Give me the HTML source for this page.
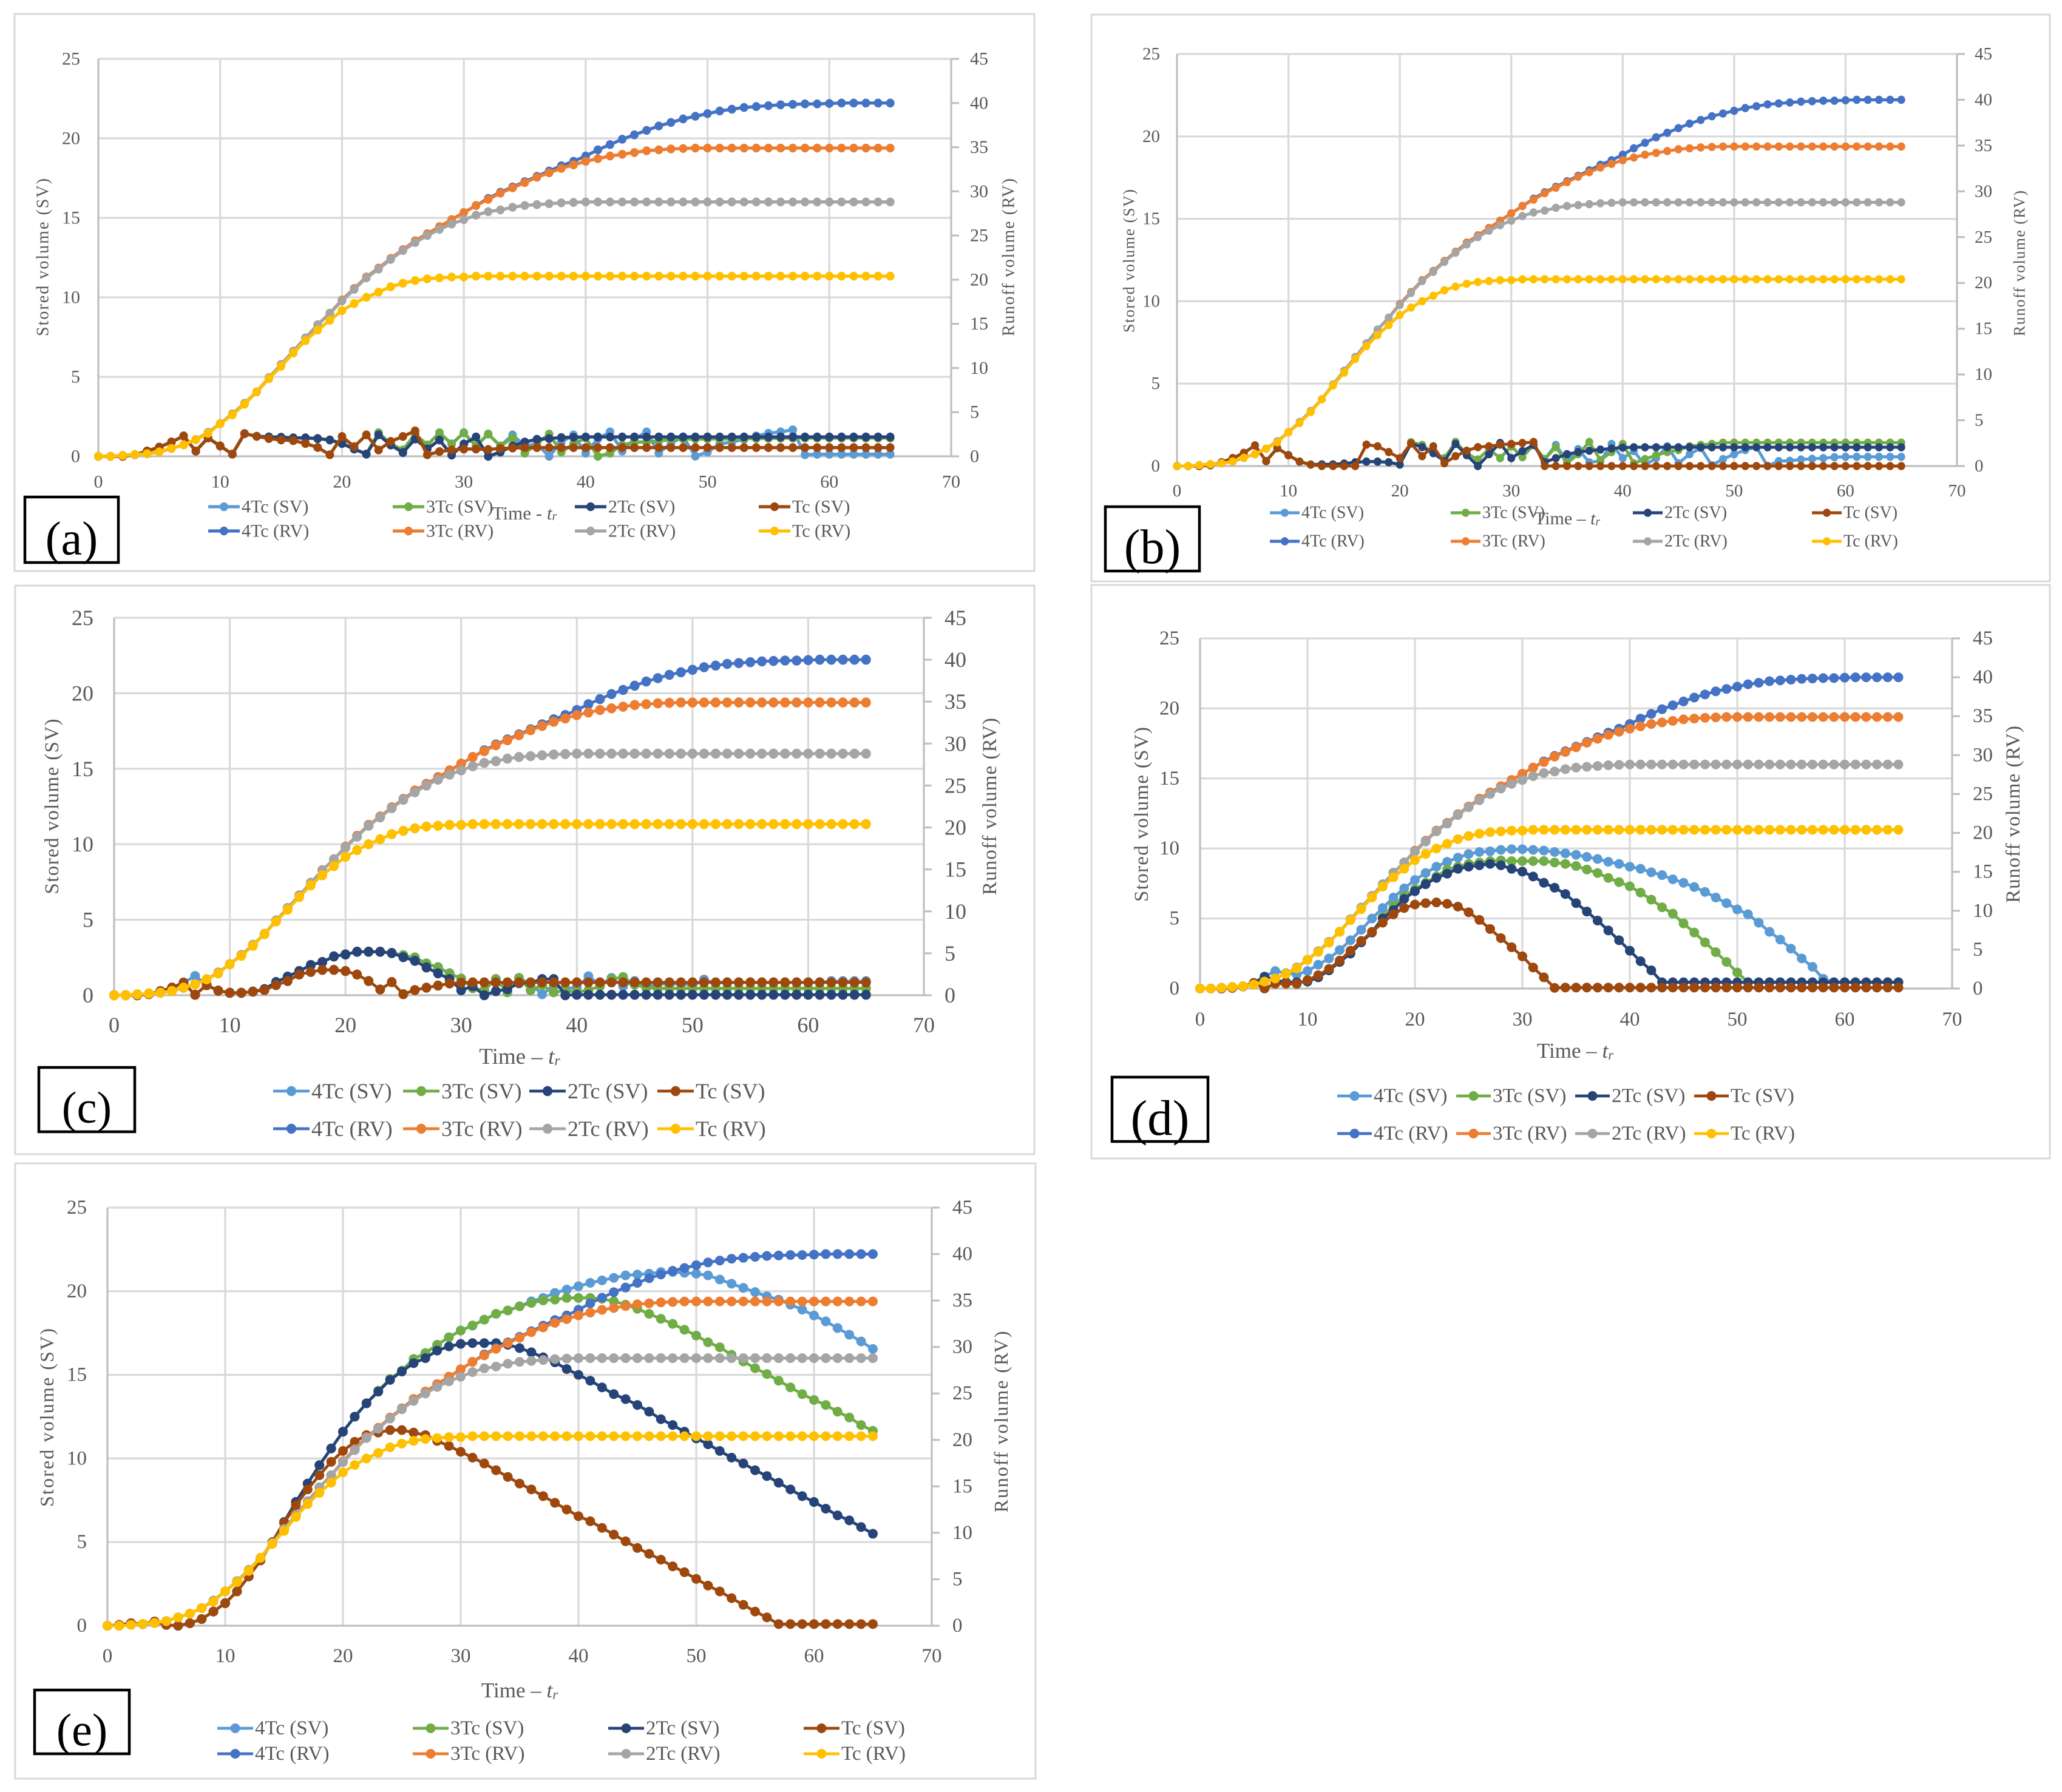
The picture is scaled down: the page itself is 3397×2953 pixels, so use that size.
<!DOCTYPE html>
<html lang="en">
<head>
<meta charset="utf-8">
<title>Stored and runoff volume panels</title>
<style>
html,body{margin:0;padding:0;background:#fff;}
svg{display:block;font-family:"Liberation Serif",serif;}
</style>
</head>
<body>
<svg id="figure" xmlns="http://www.w3.org/2000/svg" width="3397" height="2953" viewBox="0 0 3397 2953"></svg>
<script>
/* ---------- shared tick labels ---------- */
const xTicks = [0,10,20,30,40,50,60,70];
const primaryTicks = [0,5,10,15,20,25];
const secondaryTicks = [0,5,10,15,20,25,30,35,40,45];
const seriesLabels = ['4Tc (SV)','3Tc (SV)','2Tc (SV)','Tc (SV)','4Tc (RV)','3Tc (RV)','2Tc (RV)','Tc (RV)'];

/* ---------- runoff volume (secondary axis) ---------- */
const rv4Tc = [0,0,0.1,0.2,0.3,0.5,0.9,1.3,1.9,2.7,
3.7,4.8,6,7.3,8.9,10.4,11.9,13.4,14.9,16.2,
17.7,19,20.3,21.3,22.4,23.4,24.4,25.2,26,26.8,
27.6,28.4,29.2,29.9,30.5,31.1,31.7,32.3,32.9,33.4,
34,34.7,35.3,35.9,36.4,36.9,37.4,37.8,38.2,38.5,
38.8,39.1,39.3,39.5,39.6,39.7,39.8,39.85,39.9,39.9,
39.95,40,40,40,40,40];
const rv3Tc = [0,0,0.1,0.2,0.3,0.5,0.9,1.3,1.9,2.7,
3.7,4.8,6,7.3,8.9,10.4,11.9,13.4,14.9,16.2,
17.7,19,20.3,21.3,22.4,23.4,24.4,25.2,26,26.8,
27.6,28.4,29.1,29.8,30.4,31,31.6,32.1,32.6,33,
33.4,33.7,34,34.2,34.4,34.6,34.7,34.8,34.85,34.9,
34.9,34.9,34.9,34.9,34.9,34.9,34.9,34.9,34.9,34.9,
34.9,34.9,34.9,34.9,34.9,34.9];
const rv2Tc = [0,0,0.1,0.2,0.3,0.5,0.9,1.3,1.9,2.7,
3.7,4.8,6,7.3,8.9,10.4,11.9,13.4,14.9,16.2,
17.6,18.9,20.2,21.2,22.3,23.3,24.2,25,25.7,26.3,
26.8,27.3,27.7,27.9,28.2,28.4,28.5,28.6,28.7,28.75,
28.8,28.8,28.8,28.8,28.8,28.8,28.8,28.8,28.8,28.8,
28.8,28.8,28.8,28.8,28.8,28.8,28.8,28.8,28.8,28.8,
28.8,28.8,28.8,28.8,28.8,28.8];
const rvTc = [0,0,0.1,0.2,0.3,0.5,0.9,1.3,1.9,2.6,
3.7,4.7,5.9,7.3,8.8,10.2,11.7,13.1,14.3,15.4,
16.5,17.3,18,18.6,19.2,19.6,19.9,20.1,20.2,20.3,
20.3,20.4,20.4,20.4,20.4,20.4,20.4,20.4,20.4,20.4,
20.4,20.4,20.4,20.4,20.4,20.4,20.4,20.4,20.4,20.4,
20.4,20.4,20.4,20.4,20.4,20.4,20.4,20.4,20.4,20.4,
20.4,20.4,20.4,20.4,20.4,20.4];

/* ---------- panel (a) stored volume ---------- */
const aSv4Tc = [0,0,0,0.1,0.33,0.58,0.9,1.28,0.33,1.16,
0.65,0.14,1.43,1.26,1.22,1.2,1.16,1.16,1.12,1.03,
0.81,0.46,0.14,1.48,0.78,0.4,1.4,0.71,1.48,0.78,
1.48,0.65,1.4,0.65,1.35,0.65,0.78,0,0.9,1.35,
0.2,1.1,1.54,0.33,1.09,1.54,0.2,0.84,1.22,0.01,
0.27,0.78,0.9,1.07,1.28,1.45,1.54,1.67,0.1,0.13,
0.13,0.13,0.13,0.13,0.13,0.13];
const aSv3Tc = [0,0,0,0.1,0.33,0.58,0.9,1.28,0.33,1.16,
0.65,0.14,1.43,1.26,1.22,1.2,1.16,1.16,1.12,1.03,
0.81,0.46,0.14,1.48,0.78,0.4,1.4,0.71,1.48,0.78,
1.48,0.65,1.4,0.65,1.16,0.2,0.78,1.4,0.27,0.78,
1.16,0,0.2,0.71,0.9,0.9,0.97,1.07,1.09,1.09,
1.1,1.1,1.1,1.12,1.12,1.13,1.14,1.15,1.15,1.15,
1.15,1.15,1.15,1.15,1.15,1.15];
const aSv2Tc = [0,0,0,0.1,0.33,0.58,0.9,1.28,0.33,1.16,
0.65,0.14,1.43,1.26,1.22,1.2,1.16,1.16,1.12,1.03,
0.81,0.46,0.14,1.35,0.71,0.24,1.09,0.46,1.03,0.08,
0.78,1.22,0,0.27,0.65,0.9,1.07,1.12,1.18,1.2,
1.22,1.22,1.22,1.22,1.22,1.22,1.22,1.22,1.22,1.22,
1.22,1.22,1.22,1.22,1.22,1.22,1.22,1.22,1.22,1.22,
1.22,1.22,1.22,1.22,1.22,1.22];
const aSvTc = [0,0,0,0.1,0.33,0.58,0.9,1.28,0.33,1.16,
0.65,0.14,1.43,1.26,1.12,1.03,0.99,0.81,0.56,0.1,
1.25,0.61,1.35,0.4,0.94,1.25,1.6,0.1,0.3,0.4,
0.46,0.46,0.43,0.5,0.52,0.55,0.55,0.55,0.55,0.55,
0.55,0.55,0.55,0.55,0.55,0.55,0.55,0.55,0.55,0.55,
0.55,0.55,0.55,0.55,0.55,0.55,0.55,0.55,0.55,0.55,
0.55,0.55,0.55,0.55,0.55,0.55];

/* ---------- panel (b) stored volume ---------- */
const bSv4Tc = [0,0,0,0.05,0.23,0.48,0.8,1.25,0.3,1.09,
0.66,0.27,0.09,0.1,0.1,0.15,0.23,0.27,0.27,0.23,
0.09,1.45,1.28,0.8,0.48,1.46,0.75,0.4,1.03,0.48,
1.2,0.54,1.28,0.42,1.28,0.3,1.03,0.23,0.3,1.34,
0.48,0.91,0.05,0.48,1.2,0.17,0.72,1.09,0.05,0.42,
0.72,0.97,1.15,0,0.3,0.32,0.4,0.44,0.48,0.54,
0.56,0.56,0.56,0.56,0.56,0.56];
const bSv3Tc = [0,0,0,0.05,0.23,0.48,0.8,1.25,0.3,1.09,
0.66,0.27,0.09,0.1,0.1,0.15,0.23,0.27,0.27,0.23,
0.09,1.45,1.28,0.8,0.48,1.46,0.75,0.4,1.03,0.48,
1.2,0.54,1.28,0.42,1.15,0.17,0.72,1.46,0.36,0.85,
1.34,0.17,0.42,0.66,0.85,0.97,1.2,1.28,1.34,1.42,
1.42,1.42,1.42,1.42,1.42,1.42,1.42,1.42,1.42,1.42,
1.42,1.42,1.42,1.42,1.42,1.42];
const bSv2Tc = [0,0,0,0.05,0.23,0.48,0.8,1.25,0.3,1.09,
0.66,0.27,0.09,0.1,0.1,0.15,0.23,0.27,0.27,0.23,
0.09,1.37,1.15,0.78,0.3,1.34,0.66,0,0.72,1.4,
0.48,0.91,1.28,0.23,0.48,0.72,0.85,0.93,1,1.07,
1.12,1.14,1.14,1.14,1.14,1.14,1.14,1.14,1.14,1.14,
1.14,1.14,1.14,1.14,1.14,1.14,1.14,1.14,1.14,1.14,
1.14,1.14,1.14,1.14,1.14,1.14];
const bSvTc = [0,0,0,0.05,0.23,0.48,0.8,1.25,0.3,1.09,
0.66,0.27,0.09,0,0,0,0,1.3,1.2,0.85,
0.48,1.37,0.6,1.2,0.17,0.6,0.93,1.15,1.2,1.3,
1.34,1.4,1.46,0,0,0,0,0,0,0,
0,0,0,0,0,0,0,0,0,0,
0,0,0,0,0,0,0,0,0,0,
0,0,0,0,0,0];

/* ---------- panel (c) stored volume ---------- */
const cSv4Tc = [0,0,0,0.07,0.27,0.5,0.83,1.27,0.7,0.3,
0.16,0.16,0.24,0.4,0.87,1.23,1.6,2,2.2,2.57,
2.7,2.88,2.88,2.88,2.8,2.65,2.5,2.1,1.85,1.45,
1.1,0.47,0.33,1.07,0.4,1.14,0.75,0.07,0.6,0.45,
0.5,1.25,0.7,1.14,0.6,0.94,0.5,0.8,0.7,0.8,
0.6,1.03,0.8,0.85,0.85,0.85,0.85,0.85,0.85,0.85,
0.85,0.85,0.93,0.93,0.93,0.93];
const cSv3Tc = [0,0,0,0.07,0.27,0.5,0.83,0.03,0.67,0.3,
0.16,0.16,0.24,0.4,0.87,1.23,1.6,2,2.2,2.57,
2.7,2.88,2.88,2.88,2.8,2.65,2.5,2.1,1.85,1.45,
1.1,0.47,0.33,1.07,0.2,1.14,0.33,0.67,0.2,0.3,
0.2,0.33,0.6,1.07,1.2,0.7,0.5,0.45,0.45,0.45,
0.45,0.45,0.45,0.45,0.45,0.45,0.45,0.45,0.45,0.45,
0.45,0.45,0.45,0.45,0.45,0.45];
const cSv2Tc = [0,0,0,0.07,0.27,0.5,0.83,0.03,0.67,0.3,
0.16,0.16,0.24,0.4,0.87,1.23,1.6,2,2.2,2.57,
2.7,2.88,2.88,2.88,2.79,2.52,2.28,1.84,1.45,1.07,
0.33,0.6,0,0.27,0.4,0.8,0.83,1.07,1.07,0,
0.03,0.03,0.03,0.03,0.03,0.03,0.03,0.03,0.03,0.03,
0.03,0.03,0.03,0.03,0.03,0.03,0.03,0.03,0.03,0.03,
0.03,0.03,0.03,0.03,0.03,0.03];
const cSvTc = [0,0,0,0.07,0.27,0.5,0.83,0.03,0.67,0.3,
0.16,0.16,0.24,0.34,0.67,0.94,1.37,1.54,1.68,1.68,
1.6,1.37,0.94,0.38,0.87,0.07,0.34,0.5,0.64,0.78,
0.83,0.85,0.85,0.85,0.85,0.85,0.85,0.85,0.85,0.85,
0.85,0.85,0.85,0.85,0.85,0.85,0.85,0.85,0.85,0.85,
0.85,0.85,0.85,0.85,0.85,0.85,0.85,0.85,0.85,0.85,
0.85,0.85,0.85,0.85,0.85,0.85];

/* ---------- panel (d) stored volume ---------- */
const dSv4Tc = [0,0,0,0.05,0.15,0.4,0.85,1.25,1.1,1,
1.25,1.7,2.15,2.75,3.45,4.2,5,5.75,6.5,7.15,
7.75,8.25,8.7,9.05,9.35,9.6,9.75,9.8,9.9,9.95,
9.95,9.9,9.85,9.75,9.65,9.55,9.4,9.25,9.05,8.9,
8.7,8.55,8.3,8.1,7.8,7.55,7.25,6.9,6.5,6.1,
5.65,5.3,4.7,4.05,3.5,2.85,2.15,1.55,0.7,0.45,
0.45,0.45,0.45,0.45,0.45,0.45];
const dSv3Tc = [0,0,0,0.05,0.15,0.4,0.85,0.6,0.45,0.45,
0.5,0.8,1.3,1.9,2.5,3.3,4,5.1,5.9,6.6,
7.1,7.55,8,8.5,8.7,8.9,9,9.1,9.15,9.1,
9.1,9.1,9.1,9,8.9,8.75,8.5,8.25,7.9,7.6,
7.3,6.85,6.35,5.8,5.35,4.65,4,3.3,2.6,1.9,
1.15,0.45,0.45,0.45,0.45,0.45,0.45,0.45,0.45,0.45,
0.45,0.45,0.45,0.45,0.45,0.45];
const dSv2Tc = [0,0,0,0.05,0.15,0.4,0.85,0.6,0.45,0.45,
0.5,0.8,1.3,1.9,2.5,3.3,4,5,5.6,6.4,
6.95,7.45,7.9,8.2,8.55,8.7,8.8,8.9,8.8,8.55,
8.35,8,7.55,7.2,6.75,6.1,5.5,4.85,4.15,3.45,
2.7,1.95,1.3,0.45,0.45,0.45,0.45,0.45,0.45,0.45,
0.45,0.45,0.45,0.45,0.45,0.45,0.45,0.45,0.45,0.45,
0.45,0.45,0.45,0.45,0.45,0.45];
const dSvTc = [0,0,0,0.05,0.15,0.4,0,0.35,0.35,0.33,
0.6,0.95,1.4,2,2.7,3.4,4.05,4.7,5.3,5.75,
6,6.1,6.15,6.05,5.85,5.45,4.9,4.25,3.6,2.95,
2.3,1.5,0.8,0.05,0.07,0.07,0.07,0.07,0.07,0.07,
0.07,0.07,0.07,0.07,0.07,0.07,0.07,0.07,0.07,0.07,
0.07,0.07,0.07,0.07,0.07,0.07,0.07,0.07,0.07,0.07,
0.07,0.07,0.07,0.07,0.07,0.07];

/* ---------- panel (e) stored volume ---------- */
const eSv4Tc = [0,0.05,0.15,0.1,0.25,0.05,0,0.15,0.4,0.85,
1.35,2.05,2.95,4,5,6.2,7.4,8.5,9.6,10.6,
11.6,12.5,13.3,14.05,14.75,15.25,15.95,16.3,16.8,17.25,
17.65,17.95,18.3,18.65,18.85,19.1,19.4,19.6,19.9,20.1,
20.3,20.5,20.65,20.8,20.95,21,21.05,21.15,21.15,21.1,
21.05,20.95,20.7,20.45,20.2,19.95,19.7,19.5,19.2,18.9,
18.55,18.2,17.8,17.4,17,16.55];
const eSv3Tc = [0,0.05,0.15,0.1,0.25,0.05,0,0.15,0.4,0.85,
1.35,2.05,2.95,4,5,6.2,7.4,8.5,9.6,10.6,
11.6,12.5,13.3,14.05,14.75,15.25,15.95,16.3,16.8,17.25,
17.65,17.95,18.3,18.65,18.85,19.1,19.3,19.45,19.5,19.6,
19.6,19.6,19.55,19.4,19.2,18.95,18.65,18.35,18.05,17.7,
17.35,16.95,16.65,16.2,15.8,15.4,15.05,14.65,14.25,13.85,
13.5,13.2,12.8,12.45,12,11.65];
const eSv2Tc = [0,0.05,0.15,0.1,0.25,0.05,0,0.15,0.4,0.85,
1.35,2.05,2.95,4,5,6.2,7.4,8.5,9.6,10.6,
11.6,12.5,13.3,14,14.7,15.2,15.7,16,16.45,16.7,
16.85,16.9,16.9,16.9,16.8,16.6,16.35,16.05,15.75,15.35,
15,14.65,14.25,13.85,13.55,13.2,12.8,12.35,12,11.6,
11.2,10.85,10.45,10.05,9.7,9.3,8.95,8.55,8.15,7.75,
7.4,7,6.6,6.3,5.9,5.5];
const eSvTc = [0,0.05,0.15,0.1,0.25,0.05,0,0.15,0.4,0.85,
1.35,2.05,2.95,3.9,5,6.15,7.2,8.15,9,9.8,
10.45,11,11.4,11.55,11.7,11.7,11.55,11.4,11.05,10.75,
10.4,10.05,9.7,9.3,8.9,8.5,8.15,7.75,7.35,6.95,
6.55,6.25,5.85,5.45,5.05,4.65,4.3,3.95,3.55,3.2,
2.8,2.4,2.05,1.65,1.25,0.85,0.5,0.1,0.1,0.1,
0.1,0.1,0.1,0.1,0.1,0.1];

/* ---------- styling ---------- */
const NS = 'http://www.w3.org/2000/svg';
const svg = document.getElementById('figure');
const seriesColors = ['#5B9BD5','#70AD47','#264478','#9E480E','#4472C4','#ED7D31','#A5A5A5','#FFC000'];
const seriesSlugs = ['4tc-sv','3tc-sv','2tc-sv','tc-sv','4tc-rv','3tc-rv','2tc-rv','tc-rv'];

function make(tag, attrs, parent, name) {
  const el = document.createElementNS(NS, tag);
  for (const k in attrs) el.setAttribute(k, attrs[k]);
  
  
  parent.appendChild(el);
  return el;
}

function drawPanel(p) {
  const g = make('g', {}, svg, 'panel-' + p.id);
  const xScale = t => p.left + t * (p.right - p.left) / 70;
  const y1Scale = v => p.bottom - v * (p.bottom - p.top) / 25;
  const y2Scale = v => p.bottom - v * (p.bottom - p.top) / 45;

  make('rect', {x:p.frame[0], y:p.frame[1], width:p.frame[2]-p.frame[0], height:p.frame[3]-p.frame[1], fill:'#fff', stroke:'#d9d9d9', 'stroke-width':3}, g, 'chart-frame');

  /* gridlines */
  const grid = make('g', {stroke:'#d9d9d9', 'stroke-width':3.2}, g, 'gridlines');
  xTicks.forEach(t => {
    if (t === 0 || t === 70) return;
    make('line', {x1:xScale(t), x2:xScale(t), y1:p.top, y2:p.bottom}, grid, 'vertical-gridline');
  });
  primaryTicks.forEach(v => {
    if (v === 0) return;
    make('line', {x1:p.left, x2:p.right, y1:y1Scale(v), y2:y1Scale(v)}, grid, 'horizontal-gridline');
  });

  /* axes */
  const axes = make('g', {stroke:'#bfbfbf', 'stroke-width':3.2}, g, 'axes');
  make('line', {x1:p.left, x2:p.left, y1:p.top, y2:p.bottom}, axes, 'primary-y-axis');
  make('line', {x1:p.right, x2:p.right, y1:p.top, y2:p.bottom}, axes, 'secondary-y-axis');
  make('line', {x1:p.left, x2:p.right, y1:p.bottom, y2:p.bottom}, axes, 'x-axis');
  secondaryTicks.forEach(v => {
    make('line', {x1:p.right, x2:p.right + 13, y1:y2Scale(v), y2:y2Scale(v)}, axes, 'secondary-tick');
  });

  /* tick labels */
  const tickStyle = {fill:'#595959', 'font-size':p.tickSize, 'dominant-baseline':'central'};
  xTicks.forEach(t => {
    const el = make('text', Object.assign({x:xScale(t), y:p.xTickY, 'text-anchor':'middle'}, tickStyle), g, 'x-tick-label');
    el.textContent = t;
  });
  primaryTicks.forEach(v => {
    const el = make('text', Object.assign({x:p.leftLabelX, y:y1Scale(v), 'text-anchor':'end'}, tickStyle), g, 'primary-y-tick-label');
    el.textContent = v;
  });
  secondaryTicks.forEach(v => {
    const el = make('text', Object.assign({x:p.rightLabelX, y:y2Scale(v), 'text-anchor':'start'}, tickStyle), g, 'secondary-y-tick-label');
    el.textContent = v;
  });

  /* titles */
  const yTitle = make('text', {transform:`translate(${p.yTitle[0]},${p.yTitle[1]}) rotate(-90)`, fill:'#595959', 'font-size':p.titleSize, 'text-anchor':'middle', 'dominant-baseline':'central', textLength:p.yTitle[2], lengthAdjust:'spacing'}, g, 'y-axis-title');
  yTitle.textContent = 'Stored volume (SV)';
  const y2Title = make('text', {transform:`translate(${p.y2Title[0]},${p.y2Title[1]}) rotate(-90)`, fill:'#595959', 'font-size':p.titleSize, 'text-anchor':'middle', 'dominant-baseline':'central', textLength:p.y2Title[2], lengthAdjust:'spacing'}, g, 'secondary-y-axis-title');
  y2Title.textContent = 'Runoff volume (RV)';

  const xTitle = make('text', {x:p.xTitle[0], y:p.xTitle[1], fill:'#595959', 'font-size':p.xTitleSize, 'text-anchor':'middle', 'dominant-baseline':'central'}, g, 'x-axis-title');
  const t1 = make('tspan', {}, xTitle, 'x-axis-title-time');
  t1.textContent = p.dash;
  const t2 = make('tspan', {'font-style':'italic'}, xTitle, 'x-axis-title-t');
  t2.textContent = 't';
  const t3 = make('tspan', {'font-style':'italic', 'font-size':p.xTitleSize * 0.65, dy:p.xTitleSize * 0.2}, xTitle, 'x-axis-title-subscript');
  t3.textContent = 'r';

  /* series */
  const plots = make('g', {}, g, 'series-group');
  p.series.forEach((values, i) => {
    const yFn = i < 4 ? y1Scale : y2Scale;
    const sg = make('g', {fill:seriesColors[i]}, plots, 'series-' + seriesSlugs[i]);
    const pts = values.map((v, t) => xScale(t) + ',' + yFn(v)).join(' ');
    make('polyline', {points:pts, fill:'none', stroke:seriesColors[i], 'stroke-width':p.lineW, 'stroke-linejoin':'round'}, sg, 'series-line');
    values.forEach((v, t) => {
      make('ellipse', {cx:xScale(t), cy:yFn(v), rx:p.rx, ry:p.ry}, sg, 'series-point');
    });
  });

  /* legend */
  const legend = make('g', {}, g, 'legend');
  seriesLabels.forEach((label, i) => {
    const col = i % 4;
    const rowY = i < 4 ? p.legendY[0] : p.legendY[1];
    const e = make('g', {}, legend, 'legend-entry-' + seriesSlugs[i]);
    const x0 = p.legendLine[col];
    const x1 = x0 + p.legendLineLen;
    make('line', {x1:x0, x2:x1, y1:rowY, y2:rowY, stroke:seriesColors[i], 'stroke-width':p.lineW}, e, 'legend-line');
    make('ellipse', {cx:(x0 + x1) / 2, cy:rowY, rx:p.rx, ry:p.ry, fill:seriesColors[i]}, e, 'legend-marker');
    const tx = make('text', {x:x1 + 3, y:rowY, fill:'#595959', 'font-size':p.legendSize, 'dominant-baseline':'central'}, e, 'legend-label');
    tx.textContent = label;
  });

  /* panel tag */
  const b = p.box;
  make('rect', {x:b[0], y:b[1], width:b[2]-b[0], height:b[3]-b[1], fill:'#fff', stroke:'#000', 'stroke-width':4.5}, g, 'panel-label-box');
  const tag = make('text', {x:(b[0]+b[2])/2, y:(b[1]+b[3])/2 + 14, fill:'#000', 'font-size':p.boxSize, 'text-anchor':'middle', 'dominant-baseline':'central'}, g, 'panel-label');
  tag.textContent = '(' + p.id + ')';
}

drawPanel({
  id:'a', frame:[24,23,1704,941], left:162, right:1567, top:97, bottom:752,
  tickSize:30, xTickY:794, leftLabelX:132, rightLabelX:1598, titleSize:28,
  yTitle:[71,424,260], y2Title:[1662,424,260],
  xTitle:[864,845], xTitleSize:31, dash:'Time - ',
  legendY:[835,875], legendLine:[343,647,947,1250], legendLineLen:52, legendSize:30,
  box:[41,819,195,927], boxSize:78, lineW:5.3, rx:7, ry:7.3,
  series:[aSv4Tc,aSv3Tc,aSv2Tc,aSvTc,rv4Tc,rv3Tc,rv2Tc,rvTc]
});
drawPanel({
  id:'b', frame:[1798,24,3377,958], left:1939, right:3224, top:89, bottom:768,
  tickSize:29, xTickY:809, leftLabelX:1911, rightLabelX:3253, titleSize:26,
  yTitle:[1860,430,236], y2Title:[3327,434,240],
  xTitle:[2582,854], xTitleSize:30, dash:'Time \u2013 ',
  legendY:[845,892], legendLine:[2092,2390,2690,2985], legendLineLen:49, legendSize:28,
  box:[1821,835,1976,941], boxSize:80, lineW:5, rx:6.5, ry:6.8,
  series:[bSv4Tc,bSv3Tc,bSv2Tc,bSvTc,rv4Tc,rv3Tc,rv2Tc,rvTc]
});
drawPanel({
  id:'c', frame:[25,965,1704,1902], left:188, right:1522, top:1018, bottom:1640,
  tickSize:36, xTickY:1689, leftLabelX:154, rightLabelX:1556, titleSize:33,
  yTitle:[86,1329,289], y2Title:[1631,1329,292],
  xTitle:[856,1741], xTitleSize:37, dash:'Time \u2013 ',
  legendY:[1798,1860], legendLine:[450,664,872,1083], legendLineLen:60, legendSize:36,
  box:[64,1759,222,1865], boxSize:74, lineW:4.8, rx:8, ry:8.3,
  series:[cSv4Tc,cSv3Tc,cSv2Tc,cSvTc,rv4Tc,rv3Tc,rv2Tc,rvTc]
});
drawPanel({
  id:'d', frame:[1798,964,3377,1909], left:1977, right:3216, top:1052, bottom:1629,
  tickSize:33, xTickY:1680, leftLabelX:1943, rightLabelX:3250, titleSize:33,
  yTitle:[1881,1342,288], y2Title:[3317,1342,292],
  xTitle:[2595,1731], xTitleSize:35, dash:'Time \u2013 ',
  legendY:[1806,1868], legendLine:[2203,2399,2595,2791], legendLineLen:57, legendSize:33,
  box:[1832,1775,1990,1881], boxSize:83, lineW:4.8, rx:8, ry:8,
  series:[dSv4Tc,dSv3Tc,dSv2Tc,dSvTc,rv4Tc,rv3Tc,rv2Tc,rvTc]
});
drawPanel({
  id:'e', frame:[25,1917,1706,2931], left:177, right:1535, top:1990, bottom:2679,
  tickSize:33, xTickY:2729, leftLabelX:143, rightLabelX:1569, titleSize:32,
  yTitle:[77,2336,294], y2Title:[1649,2343,299],
  xTitle:[856,2785], xTitleSize:35, dash:'Time \u2013 ',
  legendY:[2848,2890], legendLine:[358,680,1002,1324], legendLineLen:59, legendSize:33,
  box:[57,2785,213,2890], boxSize:76, lineW:4.8, rx:8, ry:8,
  series:[eSv4Tc,eSv3Tc,eSv2Tc,eSvTc,rv4Tc,rv3Tc,rv2Tc,rvTc]
});
</script>
</body>
</html>
